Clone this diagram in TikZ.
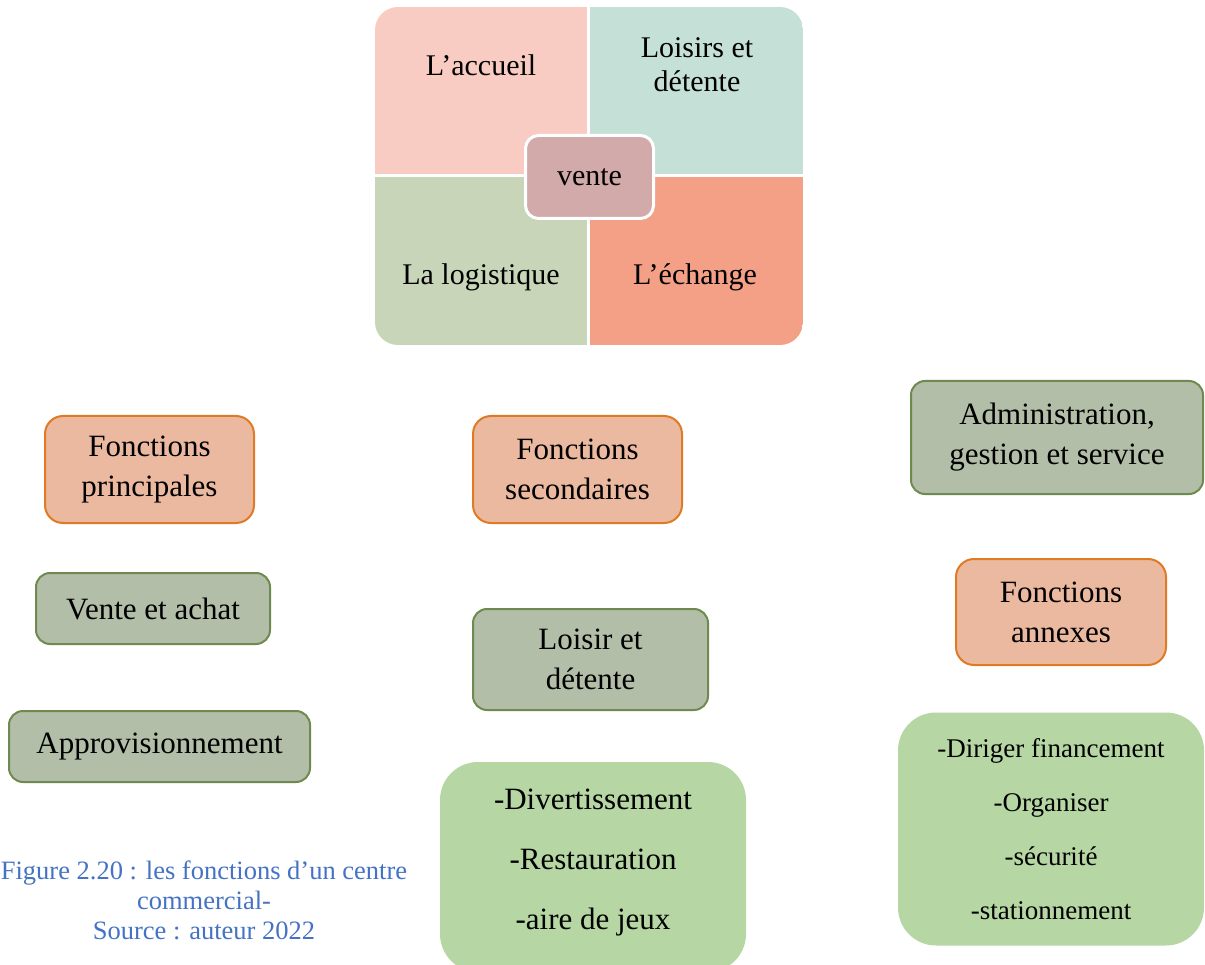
\documentclass[tikz,border=0pt]{standalone}
\usepackage{fontspec}
\setmainfont{Liberation Serif}
\definecolor{qtl}{HTML}{F8CCC2}
\definecolor{qtr}{HTML}{C5E0D6}
\definecolor{qbl}{HTML}{C8D5B9}
\definecolor{qbr}{HTML}{F4A086}
\definecolor{qmid}{HTML}{D1AAA9}
\definecolor{orfill}{HTML}{EBB9A0}
\definecolor{ordraw}{HTML}{E07A24}
\definecolor{grfill}{HTML}{B3BEA9}
\definecolor{grdraw}{HTML}{6F8A4F}
\definecolor{ltgreen}{HTML}{B6D6A3}
\definecolor{capblue}{HTML}{4472C4}
\tikzset{
  orbox/.style={draw=ordraw, fill=orfill, line width=2pt, rounded corners=18pt, align=center, inner sep=0pt,
     font=\fontsize{31}{40}\selectfont},
  grbox/.style={draw=grdraw, fill=grfill, line width=2pt, rounded corners=14pt, align=center, inner sep=0pt,
     font=\fontsize{31}{40}\selectfont},
  lgbox/.style={fill=ltgreen, rounded corners=38pt, align=center, inner sep=0pt},
  quadtxt/.style={align=center, inner sep=0pt, font=\fontsize{30}{34}\selectfont},
}
\begin{document}
\begin{tikzpicture}[x=1pt,y=-1pt]
\useasboundingbox (0,0) rectangle (1205,965);
% top quadrant block
\begin{scope}
\clip[rounded corners=23pt] (375,7) rectangle (803,345);
\fill[qtl] (375,7) rectangle (588,176);
\fill[qtr] (588,7) rectangle (803,176);
\fill[qbl] (375,176) rectangle (588,345);
\fill[qbr] (588,176) rectangle (803,345);
\end{scope}
\draw[white, line width=3pt] (588,7) -- (588,345);
\draw[white, line width=3pt] (375,176) -- (803,176);
\node[quadtxt] (acc) at (481,65) {L’accueil};
\node[quadtxt] (loi) at (697,65) {Loisirs et\\détente};
\node[quadtxt] (log) at (481,277) {La logistique};
\node[quadtxt] (ech) at (695,277) {L’échange};
\node[draw=white, fill=qmid, line width=3pt, rounded corners=13pt, minimum width=128pt, minimum height=83pt,
      inner sep=0pt, font=\fontsize{30}{34}\selectfont] (vente) at (589.5,177) {vente};
% boxes
\node[orbox, minimum width=209pt, minimum height=107pt] (fp) at (149.5,469.5) {Fonctions\\principales};
\node[orbox, minimum width=209pt, minimum height=107pt] (fs) at (577.5,469.5) {Fonctions\\secondaires};
\node[grbox, minimum width=292pt, minimum height=113pt] (adm) at (1057,437.5) {Administration,\\gestion et service};
\node[grbox, minimum width=234pt, minimum height=71pt] (vea) at (153,608.5) {Vente et achat};
\node[grbox, minimum width=235pt, minimum height=101pt] (lsd) at (590.5,659.5) {Loisir et\\détente};
\node[orbox, minimum width=210pt, minimum height=106pt] (ann) at (1061,612) {Fonctions\\annexes};
\node[grbox, minimum width=301pt, minimum height=71pt] (app) at (159.5,746.5) {Approvisionnement};
\node[lgbox, minimum width=306pt, minimum height=210pt] (gm) at (593,867) {};
\node[align=center, inner sep=0pt, font=\fontsize{31}{60}\selectfont] (gmt) at (593,863)
  {-Divertissement\\-Restauration\\-aire de jeux};
\node[lgbox, minimum width=306pt, minimum height=233pt, font=\fontsize{27}{54}\selectfont] (gr) at (1051,829)
  {-Diriger financement\\-Organiser\\-sécurité\\-stationnement};
\node[align=center, inner sep=0pt, text=capblue, font=\fontsize{26.5}{30}\selectfont] (cap) at (204,900)
  {Figure 2.20 : les fonctions d’un centre\\commercial-\\Source : auteur 2022};
\end{tikzpicture}
\end{document}
